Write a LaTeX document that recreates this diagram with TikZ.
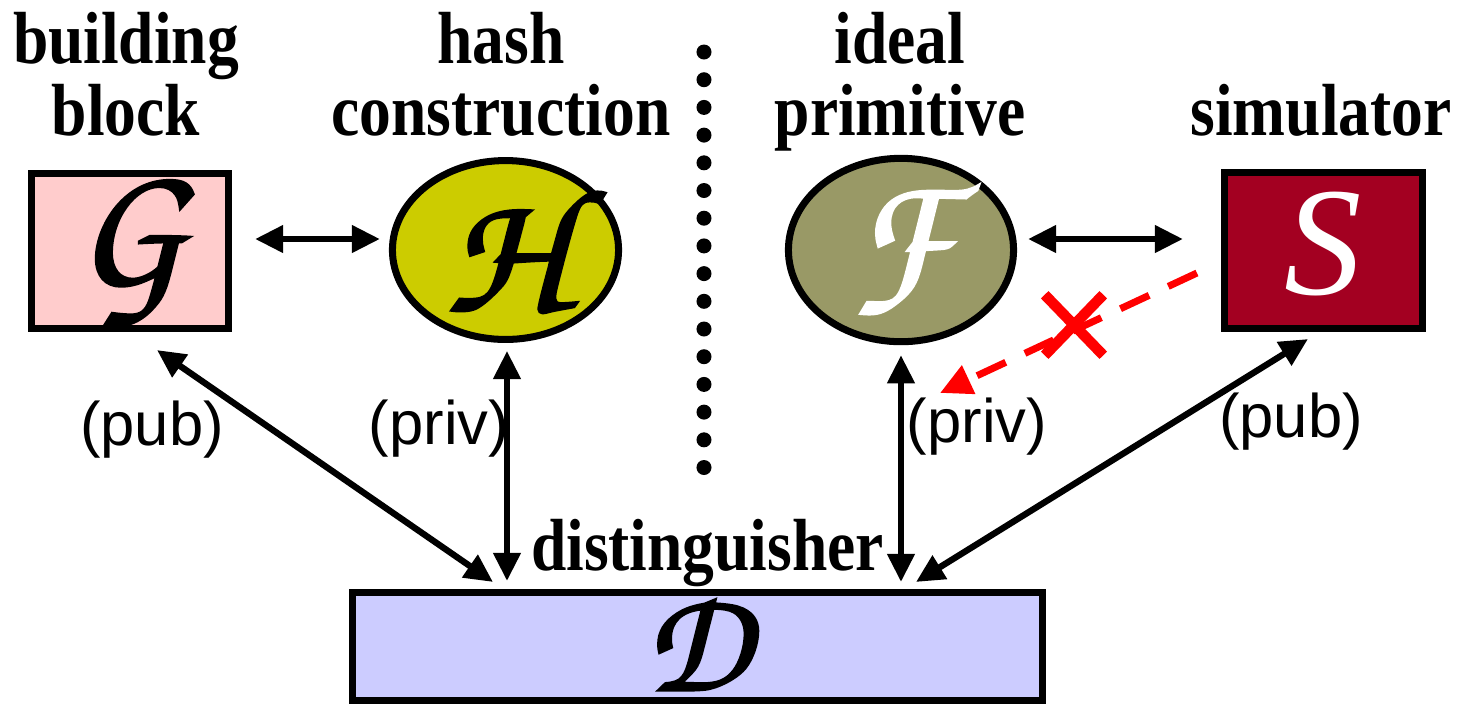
\documentclass[tikz,border=0pt]{standalone}
\usepackage{fontspec}
\setmainfont{Liberation Serif}
\setsansfont{Liberation Sans}
\newfontfamily\hdfont{Liberation Serif}[FakeStretch=0.86]
\usetikzlibrary{arrows.meta,shapes.geometric,shapes.misc}
\newcommand\chanc{\usefont{OT1}{pzc}{mb}{it}}
\newcommand\heavyglyph[1]{\special{pdf:literal direct 2 Tr 0.8 w}#1\special{pdf:literal direct 0 Tr 0.4 w}}
\definecolor{gfill}{HTML}{FFCCCC}
\definecolor{hfill}{HTML}{CCCC00}
\definecolor{ffill}{HTML}{999966}
\definecolor{sfill}{HTML}{A30021}
\definecolor{dfill}{HTML}{CCCCFF}
\begin{document}
\begin{tikzpicture}[x=0.01cm,y=-0.01cm,
  box/.style={draw=black,line width=2pt,inner sep=0pt,outer sep=0pt},
  rbox/.style={box,rectangle},
  ebox/.style={box,ellipse},
  letter/.style={font=\fontsize{50}{50}\chanc},
  hdr/.style={font=\hdfont\bfseries\fontsize{21}{20.5}\selectfont,inner sep=0pt,anchor=base},
  lbl/.style={font=\sffamily\fontsize{17.5}{20}\selectfont,inner sep=0pt},
  conn/.style={line width=1.8pt,arrows={Triangle[length=8pt,width=7.5pt]-Triangle[length=8pt,width=7.5pt]}},
  nolink/.style={draw=red,line width=2pt,dash pattern=on 9pt off 6pt,-{Triangle[length=9pt,width=8.5pt]}}
]
\useasboundingbox (0,0) rectangle (1459,705);

% headings
\node[hdr] (tG) at (126,63) {\begin{tabular}[t]{@{}c@{}}building\\block\end{tabular}};
\node[hdr] (tH) at (501,63) {\begin{tabular}[t]{@{}c@{}}hash\\construction\end{tabular}};
\node[hdr] (tF) at (900,63) {\begin{tabular}[t]{@{}c@{}}ideal\\primitive\end{tabular}};
\node[hdr] (tS) at (1321,135) {simulator};
\node[hdr] (tD) at (707.5,570) {distinguisher};

% separator dots
\foreach \i in {0,...,15}
  \fill (704,52+27.7*\i) circle (0.075cm);

% blocks
\node[rbox,fill=gfill,minimum width=1.97cm,minimum height=1.55cm,letter] (G) at (130,251) {\heavyglyph{G}};
\node[ebox,fill=hfill,minimum width=2.26cm,minimum height=1.77cm,letter] (H) at (505.5,250) {\heavyglyph{H}};
\node[ebox,fill=ffill,minimum width=2.25cm,minimum height=1.77cm,letter,text=white] (F) at (901,250) {\heavyglyph{F}};
\node[rbox,fill=sfill,minimum width=1.98cm,minimum height=1.56cm,font=\fontsize{44}{44}\selectfont\itshape,text=white] (S) at (1323.5,250.5) {\raisebox{4pt}{S}};
\node[rbox,fill=dfill,minimum width=6.9cm,minimum height=1.08cm,font=\fontsize{42}{42}\chanc] (D) at (697.5,646.5) {\raisebox{2pt}{\heavyglyph{D}}};

% connectors
\draw[conn] ([shift={(26.5,-12)}]G.east) -- ([shift={(-12.5,-11)}]H.west);
\draw[conn] ([shift={(14.5,-11)}]F.east) -- ([shift={(-41.5,-11.5)}]S.west);
\draw[conn] ([shift={(27,21.5)}]G.south) -- ([shift={(-204.5,-10.5)}]D.north);
\draw[conn] ([shift={(1.5,11.5)}]H.south) -- ([shift={(-190.5,-11.5)}]D.north);
\draw[conn] ([shift={(0,13.5)}]F.south) -- ([shift={(203.5,-10.5)}]D.north);
\draw[conn] ([shift={(-15.5,10.5)}]S.south) -- ([shift={(218.5,-10.5)}]D.north);

% forbidden link
\coordinate (redtip) at (940,393);
\draw[nolink] ([shift={(-27.5,22.5)}]S.west) -- (redtip);
\node[cross out,draw=red,line width=3pt,minimum width=0.48cm,minimum height=0.5cm,inner sep=0pt] (X) at (1074,325) {};

% labels
\node[lbl] (pubG) at (152,430) {(pub)};
\node[lbl] (privH) at (439,429) {(priv)};
\node[lbl] (privF) at (977,427) {(priv)};
\node[lbl] (pubS) at (1291,422) {(pub)};
\end{tikzpicture}
\end{document}
